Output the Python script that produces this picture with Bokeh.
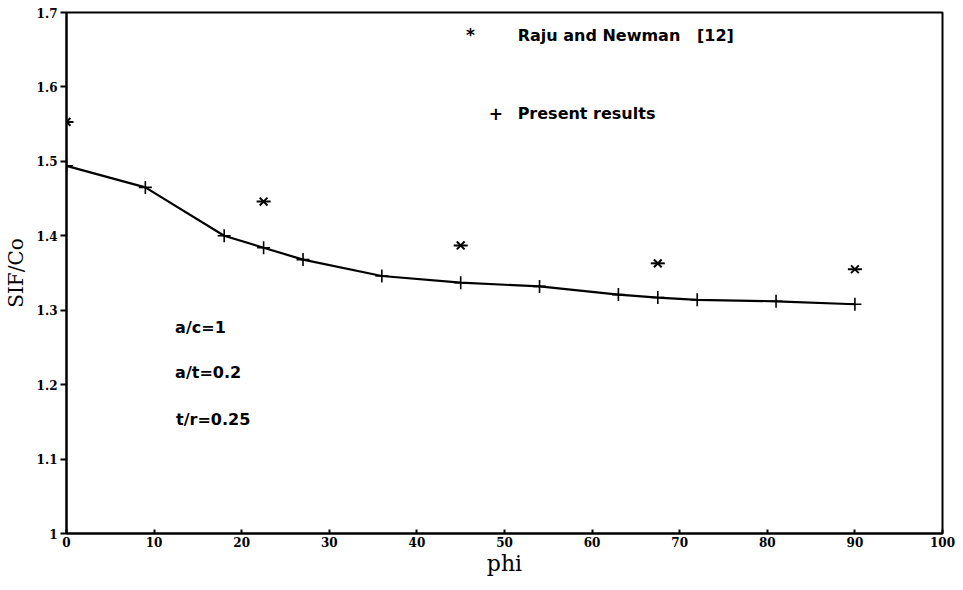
from bokeh.plotting import figure
from bokeh.models import Range1d, FixedTicker, Label
from bokeh.embed import file_html
from bokeh.resources import INLINE

# Crack-front angle (degrees) and normalised stress intensity factor
phi_present = [0, 9, 18, 22.5, 27, 36, 45, 54, 63, 67.5, 72, 81, 90]
sif_present = [1.494, 1.465, 1.400, 1.384, 1.368, 1.346, 1.337, 1.332,
               1.321, 1.317, 1.314, 1.312, 1.308]

phi_raju = [0, 22.5, 45, 67.5, 90]
sif_raju = [1.553, 1.446, 1.387, 1.363, 1.355]

x_ticks = [0, 10, 20, 30, 40, 50, 60, 70, 80, 90, 100]
y_ticks = [1.0, 1.1, 1.2, 1.3, 1.4, 1.5, 1.6, 1.7]

p = figure(width=963, height=590, output_backend="svg", toolbar_location=None,
           x_range=Range1d(0, 100), y_range=Range1d(1.0, 1.7),
           min_border_left=65, min_border_right=22,
           min_border_top=12, min_border_bottom=57)
p.frame_width = 876
p.frame_height = 521
p.background_fill_color = "white"
p.border_fill_color = "white"
p.outline_line_color = "black"
p.outline_line_width = 2
p.grid.visible = False

serif = "DejaVu Serif"
sans = "DejaVu Sans"

p.xaxis.ticker = FixedTicker(ticks=x_ticks)
p.yaxis.ticker = FixedTicker(ticks=y_ticks)
p.yaxis.major_label_overrides = {1: "1"}
for ax in (p.xaxis, p.yaxis):
    ax.axis_line_width = 2
    ax.axis_line_color = "black"
    ax.major_tick_line_width = 2
    ax.major_tick_line_color = "black"
    ax.minor_tick_line_color = None
    ax.major_label_text_font = serif
    ax.major_label_text_font_style = "bold"
    ax.major_label_text_font_size = "12px"
    ax.major_label_text_color = "black"
    ax.axis_label_text_font = serif
    ax.axis_label_text_font_style = "normal"
    ax.axis_label_text_color = "black"
p.xaxis.major_tick_in = 4
p.xaxis.major_tick_out = 0
p.yaxis.major_tick_in = 0
p.yaxis.major_tick_out = 6
p.xaxis.major_label_standoff = 3
p.yaxis.major_label_standoff = 3
p.xaxis.axis_label = "phi"
p.yaxis.axis_label = "SIF/Co"
p.xaxis.axis_label_text_font_size = "22px"
p.yaxis.axis_label_text_font_size = "20px"
p.xaxis.axis_label_standoff = 1
p.yaxis.axis_label_standoff = 6

# Present results: solid line with plus markers
p.line(phi_present, sif_present, line_color="black", line_width=2.2)
p.scatter(phi_present, sif_present, marker="cross", size=13,
          line_color="black", line_width=1.6)

# Raju and Newman reference values
p.scatter(phi_raju, sif_raju, marker="x", size=11, line_color="black", line_width=2)
p.scatter(phi_raju, sif_raju, marker="dash", size=14, line_color="black", line_width=2)


def note(x, y, txt, size="16px"):
    p.add_layout(Label(x=x, y=y, text=txt, text_font=sans, text_font_style="bold",
                       text_font_size=size, text_color="black",
                       text_baseline="middle", text_align="left"))


# Key
note(45.6, 1.670, "*", size="17px")
note(51.5, 1.6685, "Raju and Newman\u00a0\u00a0\u00a0[12]")
note(48.2, 1.5645, "+", size="17px")
note(51.5, 1.5645, "Present results")

# Geometry parameters
note(12.4, 1.2765, "a/c=1")
note(12.4, 1.216, "a/t=0.2")
note(12.5, 1.153, "t/r=0.25")

open("out.html", "w").write(file_html(p, INLINE))
